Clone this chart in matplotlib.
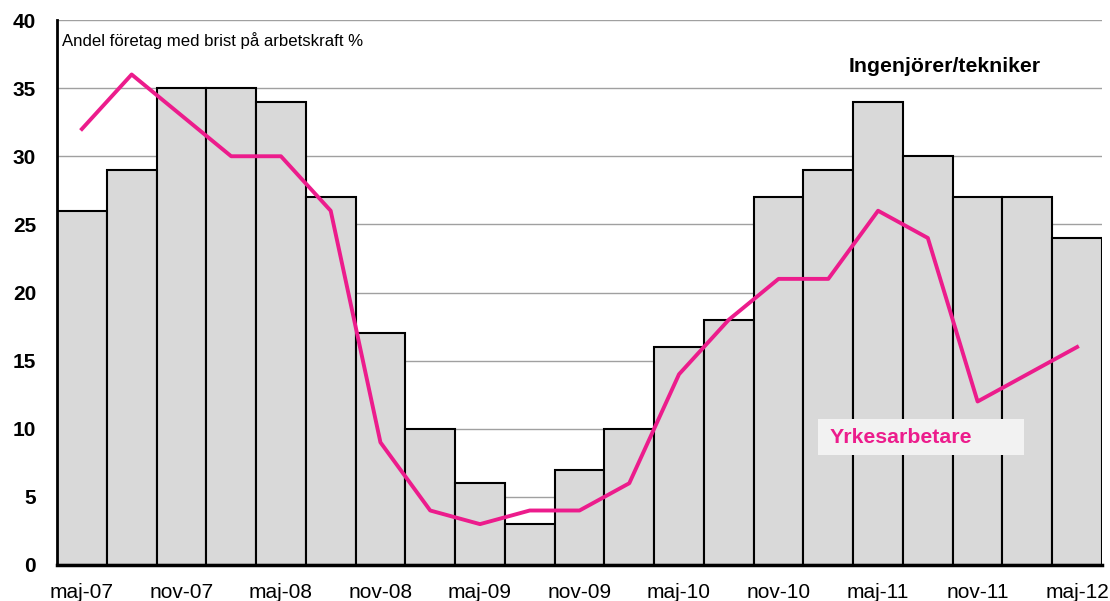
import matplotlib
matplotlib.use("Agg")
import matplotlib.pyplot as plt
from matplotlib.patches import Rectangle
import numpy as np

plt.rcParams['font.family'] = ['Liberation Sans', 'DejaVu Sans']

periods = ["maj-07", "aug-07", "nov-07", "feb-08", "maj-08", "aug-08", "nov-08",
           "feb-09", "maj-09", "aug-09", "nov-09", "feb-10", "maj-10", "aug-10",
           "nov-10", "feb-11", "maj-11", "aug-11", "nov-11", "feb-12", "maj-12"]
ingenjorer = [26, 29, 35, 35, 34, 27, 17, 10, 6, 3, 7, 10, 16, 18, 27, 29, 34, 30, 27, 27, 24]
yrkesarbetare = [32, 36, 33, 30, 30, 26, 9, 4, 3, 4, 4, 6, 14, 18, 21, 21, 26, 24, 12, 14, 16]
yticks = [0, 5, 10, 15, 20, 25, 30, 35, 40]

fig = plt.figure(figsize=(11.10, 6.01), dpi=100)
ax = fig.add_axes([57/1110, 36/601, (1102-57)/1110, (565-20)/601])

x = np.arange(len(periods))
ax.bar(x, ingenjorer, width=1.0, color="#d9d9d9", edgecolor="black", linewidth=1.5, zorder=2)
ax.plot(x, yrkesarbetare, color="#ec1c8c", linewidth=2.8, zorder=3)

ax.set_xlim(-0.5, len(periods) - 0.5)
ax.set_ylim(0, 40)
ax.set_yticks(yticks)
ax.set_yticklabels([str(v) for v in yticks], fontsize=15, fontweight="bold")
ax.set_xticks(x[::2])
ax.set_xticklabels(periods[::2], fontsize=15)
ax.tick_params(axis="y", length=0, pad=15)
ax.tick_params(axis="x", length=0, pad=13)
ax.yaxis.grid(True, color="#a0a0a0", linewidth=1, zorder=0)
ax.set_axisbelow(True)
for s in ["top", "right"]:
    ax.spines[s].set_visible(False)
ax.spines["left"].set_linewidth(2)
ax.spines["bottom"].set_linewidth(2.5)
ax.spines["left"].set_zorder(4)
ax.spines["bottom"].set_zorder(4)

ax.text(0.005, 0.978, "Andel företag med brist på arbetskraft %", transform=ax.transAxes,
        fontsize=12.1, va="top", ha="left")
ax.text(15.4, 36.6, "Ingenjörer/tekniker", fontsize=15.3, fontweight="bold", va="center", ha="left")
ax.add_patch(Rectangle((14.79, 8.07), 18.93 - 14.79, 10.71 - 8.07, facecolor="#f2f2f2",
                       edgecolor="none", zorder=5))
ax.text(15.03, 9.39, "Yrkesarbetare", fontsize=15.3, fontweight="bold", color="#ec1c8c",
        va="center", ha="left", zorder=6)

fig.savefig("out.png", dpi=100)
